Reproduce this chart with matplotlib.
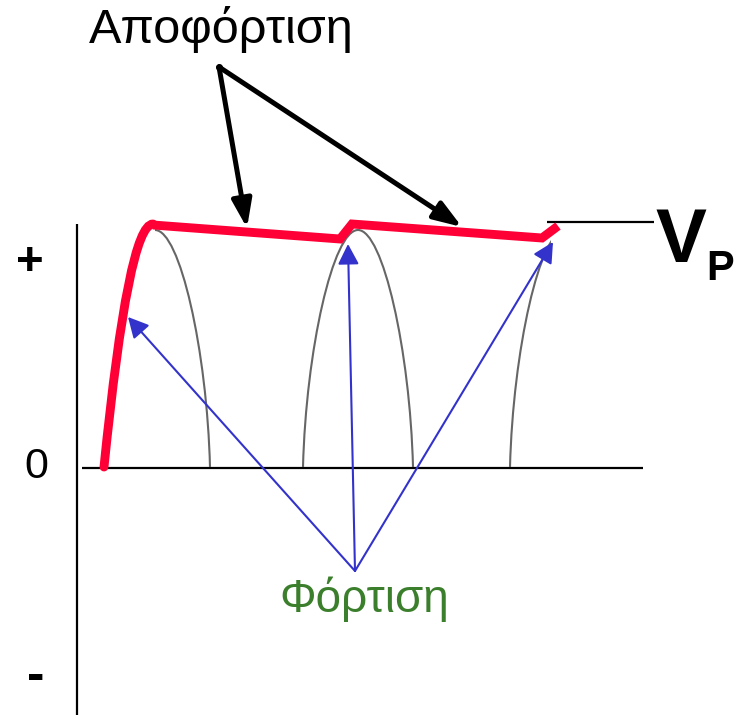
import matplotlib
matplotlib.use("Agg")
import matplotlib.pyplot as plt
from matplotlib.path import Path
from matplotlib.patches import PathPatch, FancyArrowPatch, Rectangle

# ---------------- data (diagram coordinates) ----------------
zero_level = 468                      # y of the 0 line
zero_line_x = [82, 643]
vaxis_x = 77
vaxis_y = [224, 715]

# charging curve (quadratic Bezier: start, control, peak)
charge_x = [104, 128.5, 153]
charge_y = [467, 224, 224]

# discharge / recharge polyline of the capacitor voltage
ripple_x = [153, 340, 352, 542, 558]
ripple_y = [225, 239, 224, 238, 226]

# rectified input half-waves
arc_centers = [155, 358, 565]
arc_peak = 230
arc_base = 467
arc_halfwidth = 55

# Vp reference line
vp_line_x = [547, 654]
vp_line_y = 222

# annotation arrows
discharge_tail = (219, 67)
discharge_tips_x = [247, 462]
discharge_tips_y = [228, 227]

charge_tail = (355, 571)
charge_tips_x = [128, 348, 553]
charge_tips_y = [317, 244, 242]

label_discharge = "Αποφόρτιση"
label_charge = "Φόρτιση"
tick_labels = ["+", "0", "-"]

# ---------------- drawing ----------------
RED = "#ff0036"
GRAY = "#666666"
BLUE = "#3333cc"
GREEN = "#3b7f2c"
FONT = ["Liberation Sans", "DejaVu Sans"]

fig = plt.figure(figsize=(7.38, 7.15), dpi=100)
ax = fig.add_axes([0, 0, 1, 1])
ax.set_xlim(0, 738)
ax.set_ylim(715, 0)
ax.axis("off")

# axes of the diagram
ax.plot(zero_line_x, [zero_level, zero_level], color="black", lw=1.6, solid_capstyle="butt", zorder=2)
ax.plot([vaxis_x, vaxis_x], vaxis_y, color="black", lw=1.6, solid_capstyle="butt", zorder=2)
ax.plot(vp_line_x, [vp_line_y, vp_line_y], color="black", lw=1.6, solid_capstyle="butt", zorder=2)


def half_arc(c, side):
    s = -1 if side == "left" else 1
    verts = [(c + s * arc_halfwidth, arc_base),
             (c + s * (arc_halfwidth - 3), arc_base - 0.49 * (arc_base - arc_peak)),
             (c + s * 25, arc_peak),
             (c, arc_peak)]
    return Path(verts, [Path.MOVETO, Path.CURVE4, Path.CURVE4, Path.CURVE4])


# arc 1: only its falling half is visible
ax.add_patch(PathPatch(half_arc(arc_centers[0], "right"), fill=False, ec=GRAY, lw=1.5, zorder=3))
# arc 2: full
ax.add_patch(PathPatch(half_arc(arc_centers[1], "left"), fill=False, ec=GRAY, lw=1.5, zorder=3))
ax.add_patch(PathPatch(half_arc(arc_centers[1], "right"), fill=False, ec=GRAY, lw=1.5, zorder=3))
# arc 3: rising part only, cut under the red line
p3 = PathPatch(half_arc(arc_centers[2], "left"), fill=False, ec=GRAY, lw=1.5, zorder=3)
ax.add_patch(p3)
clip = Rectangle((0, 0), 551, 715, transform=ax.transData, visible=False)
ax.add_patch(clip)
p3.set_clip_path(clip)

# red capacitor voltage
charge_path = Path(list(zip(charge_x, charge_y)),
                   [Path.MOVETO, Path.CURVE3, Path.CURVE3])
ax.add_patch(PathPatch(charge_path, fill=False, ec=RED, lw=6.4, capstyle="round", zorder=5))
ax.plot(ripple_x, ripple_y, color=RED, lw=6.4, solid_capstyle="butt",
        solid_joinstyle="miter", zorder=5)

# black arrows (discharge)
for tx, ty in zip(discharge_tips_x, discharge_tips_y):
    ar = FancyArrowPatch(discharge_tail, (tx, ty), arrowstyle="-|>,head_length=0.85,head_width=0.3",
                         mutation_scale=20, color="black", lw=3.6, shrinkA=0, shrinkB=0,
                         zorder=6)
    ax.add_patch(ar)
ax.plot([discharge_tail[0]], [discharge_tail[1]], "o", color="black", ms=4, zorder=6)

# blue arrows (charge)
for tx, ty in zip(charge_tips_x, charge_tips_y):
    ar = FancyArrowPatch(charge_tail, (tx, ty), arrowstyle="-|>,head_length=0.62,head_width=0.32",
                         mutation_scale=20, color=BLUE, lw=1.5, shrinkA=0, shrinkB=0,
                         zorder=4)
    ax.add_patch(ar)

# texts
ax.text(221, 43, label_discharge, fontsize=35, family=FONT, ha="center", va="baseline")
ax.text(364, 612, label_charge, fontsize=33, family=FONT, color=GREEN, ha="center", va="baseline")
ax.text(655, 262, "V", fontsize=55, family=FONT, weight="bold", ha="left", va="baseline")
ax.text(706, 280, "P", fontsize=30, family=FONT, weight="bold", ha="left", va="baseline")

ax.text(29.5, 275, tick_labels[0], fontsize=34, family=FONT, weight="bold", ha="center", va="baseline")
ax.text(36.5, 478, tick_labels[1], fontsize=31, family=FONT, ha="center", va="baseline")
ax.text(35.5, 691, tick_labels[2], fontsize=38, family=FONT, weight="bold", ha="center", va="baseline")

fig.savefig("out.png", dpi=100)
